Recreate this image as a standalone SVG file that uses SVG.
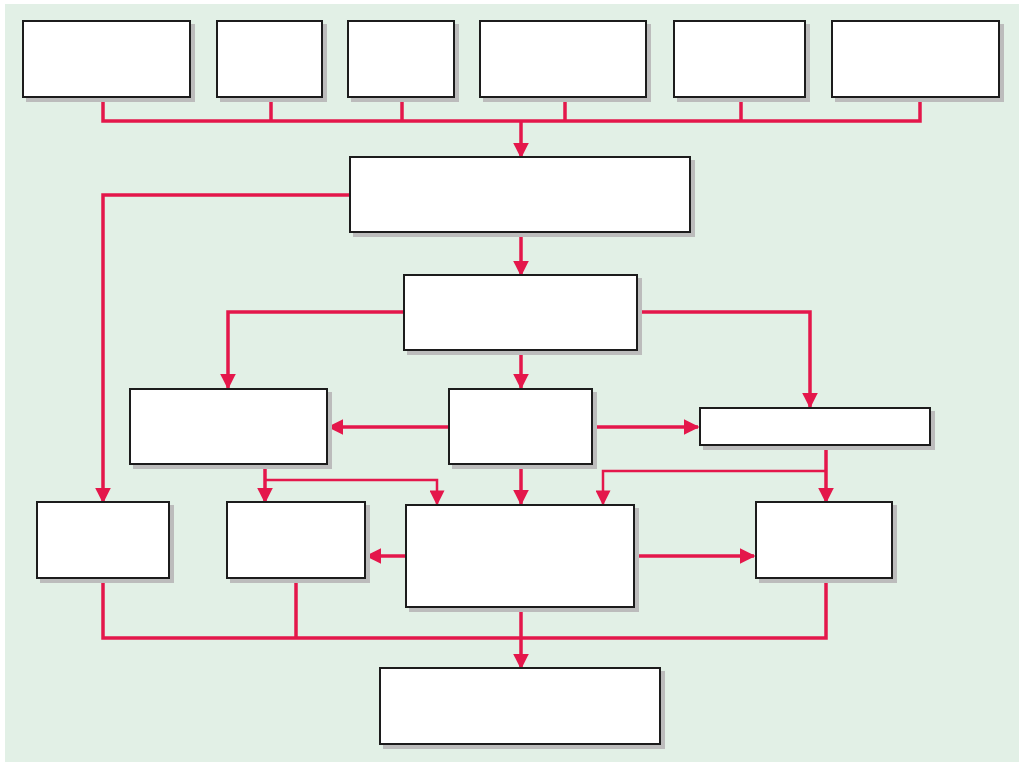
<svg xmlns="http://www.w3.org/2000/svg" width="1024" height="766" viewBox="0 0 1024 766">
<defs>
<marker id="ah" viewBox="0 0 10 10" refX="9" refY="5" markerWidth="4.5" markerHeight="4.5" orient="auto" markerUnits="strokeWidth"><path d="M0,0 L10,5 L0,10 Z" fill="#e4174b"/></marker>
<marker id="ah2" viewBox="0 0 10 10" refX="9" refY="5" markerWidth="6.3" markerHeight="6" orient="auto" markerUnits="strokeWidth"><path d="M0,0 L10,5 L0,10 Z" fill="#e4174b"/></marker>
<filter id="sh" x="-10%" y="-10%" width="130%" height="130%"><feOffset dx="4" dy="4" in="SourceAlpha"/><feColorMatrix values="0 0 0 0 0.5 0 0 0 0 0.5 0 0 0 0 0.5 0 0 0 1 0"/><feMerge><feMergeNode/><feMergeNode in="SourceGraphic"/></feMerge></filter>
</defs>
<style>
.n rect{fill:#fff;stroke:#1a1a1a;stroke-width:2;filter:url(#sh)}
.c path{fill:none;stroke:#e4174b;stroke-width:3.5}
.c .a{marker-end:url(#ah)}
.c .t{stroke-width:2.5;marker-end:url(#ah2)}
</style>
<rect width="1024" height="766" fill="#fff"/>
<rect x="5" y="4" width="1014" height="758" fill="#e2f0e6"/>
<g class="c">
<path d="M103,97 V121 H920 V97 M271,97 V121 M402,97 V121 M565,97 V121 M741,97 V121"/>
<path class="a" d="M521,121 V157"/>
<path class="a" d="M350,195 H103 V502"/>
<path class="a" d="M521,232 V275"/>
<path class="a" d="M404,312 H228 V388"/>
<path class="a" d="M637,312 H810 V407"/>
<path class="a" d="M521,350 V388"/>
<path class="a" d="M449,427 H329"/>
<path class="a" d="M592,427 H698"/>
<path class="a" d="M265,464 V502"/>
<path class="t" d="M265,480 H437 V504"/>
<path class="a" d="M521,464 V504"/>
<path class="a" d="M826,445 V502"/>
<path class="t" d="M826,471 H603 V504"/>
<path class="a" d="M406,556 H367"/>
<path class="a" d="M634,556 H754"/>
<path d="M103,578 V638 H826 V578 M296,578 V638"/>
<path class="a" d="M521,607 V668"/>
</g>
<g class="n" id="t1"><rect x="23" y="21" width="167" height="76"/></g>
<g class="n" id="t2"><rect x="217" y="21" width="105" height="76"/></g>
<g class="n" id="t3"><rect x="348" y="21" width="106" height="76"/></g>
<g class="n" id="t4"><rect x="480" y="21" width="166" height="76"/></g>
<g class="n" id="t5"><rect x="674" y="21" width="131" height="76"/></g>
<g class="n" id="t6"><rect x="832" y="21" width="167" height="76"/></g>
<g class="n" id="a"><rect x="350" y="157" width="340" height="75"/></g>
<g class="n" id="b"><rect x="404" y="275" width="233" height="75"/></g>
<g class="n" id="c"><rect x="130" y="389" width="197" height="75"/></g>
<g class="n" id="d"><rect x="449" y="389" width="143" height="75"/></g>
<g class="n" id="e"><rect x="700" y="408" width="230" height="37"/></g>
<g class="n" id="f"><rect x="37" y="502" width="132" height="76"/></g>
<g class="n" id="g"><rect x="227" y="502" width="138" height="76"/></g>
<g class="n" id="h"><rect x="406" y="505" width="228" height="102"/></g>
<g class="n" id="i"><rect x="756" y="502" width="136" height="76"/></g>
<g class="n" id="j"><rect x="380" y="668" width="280" height="76"/></g>
</svg>
